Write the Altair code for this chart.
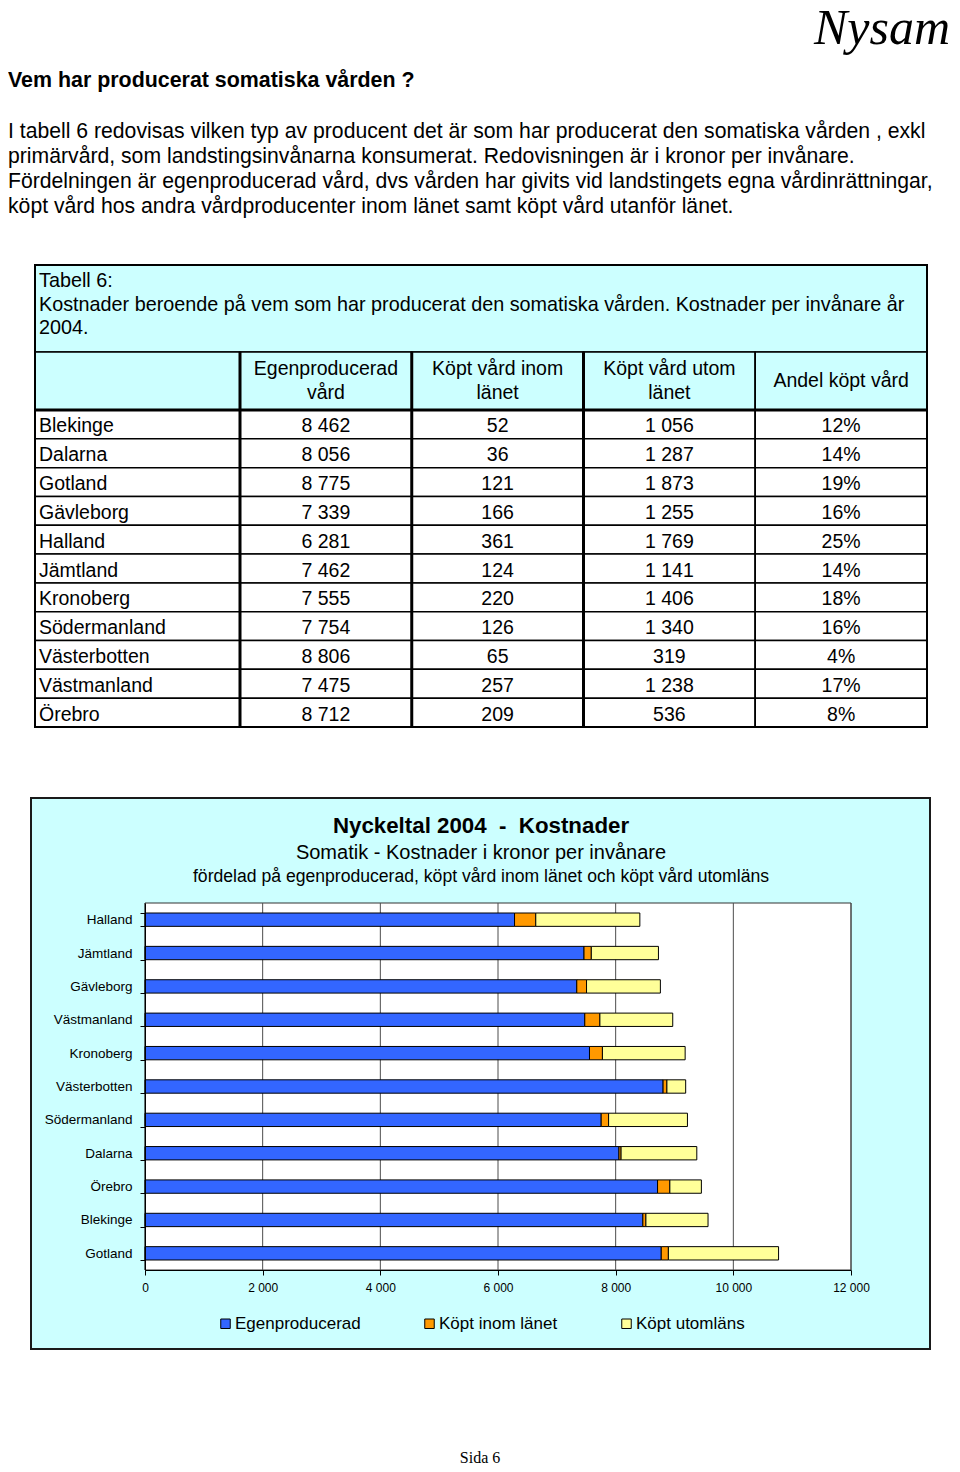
import altair as alt
import pandas as pd

FONT = "Liberation Sans"
SERIF = "Liberation Serif"
CYAN = "#CCFFFF"

# ---------------- data ----------------
regions = ["Blekinge", "Dalarna", "Gotland", "Gävleborg", "Halland", "Jämtland",
           "Kronoberg", "Södermanland", "Västerbotten", "Västmanland", "Örebro"]
egen = [8462, 8056, 8775, 7339, 6281, 7462, 7555, 7754, 8806, 7475, 8712]
inom = [52, 36, 121, 166, 361, 124, 220, 126, 65, 257, 209]
utom = [1056, 1287, 1873, 1255, 1769, 1141, 1406, 1340, 319, 1238, 536]
andel = ["12%", "14%", "19%", "16%", "25%", "14%", "18%", "16%", "4%", "17%", "8%"]
table_headers = ["Egenproducerad\nvård", "Köpt vård inom\nlänet",
                 "Köpt vård utom\nlänet", "Andel köpt vård"]
chart_order = ["Halland", "Jämtland", "Gävleborg", "Västmanland", "Kronoberg",
               "Västerbotten", "Södermanland", "Dalarna", "Örebro", "Blekinge", "Gotland"]
series_names = ["Egenproducerad", "Köpt inom länet", "Köpt utomläns"]
series_colors = ["#3366FF", "#FF9900", "#FFFF99"]
x_ticks = [0, 2000, 4000, 6000, 8000, 10000, 12000]

brand = "Nysam"
heading = "Vem har producerat somatiska vården ?"
paragraph = [
    "I tabell 6 redovisas vilken typ av producent det är som har producerat den somatiska vården , exkl",
    "primärvård, som landstingsinvånarna konsumerat. Redovisningen är i kronor per invånare.",
    "Fördelningen är egenproducerad vård, dvs vården har givits vid landstingets egna vårdinrättningar,",
    "köpt vård hos andra vårdproducenter inom länet samt köpt vård utanför länet.",
]
caption = [
    "Tabell 6:",
    "Kostnader beroende på vem som har producerat den somatiska vården. Kostnader per invånare år",
    "2004.",
]
chart_title = "Nyckeltal 2004\u00a0 -\u00a0 Kostnader"
chart_sub1 = "Somatik - Kostnader i kronor per invånare"
chart_sub2 = "fördelad på egenproducerad, köpt vård inom länet och köpt vård utomläns"
footer = "Sida 6"


def fmt(v):
    return f"{v:,}".replace(",", " ")


W = 944
H1, H2, H3 = 257, 532, 667
one = pd.DataFrame({"k": [0]})

# ---------------- header text ----------------
h_base = alt.Chart(one)
nysam_t = h_base.mark_text(text=brand, font=SERIF, fontStyle="italic", fontSize=50,
                           align="right", baseline="alphabetic", color="black",
                           clip=True).encode(x=alt.value(942), y=alt.value(36))
heading_t = h_base.mark_text(text=heading, font=FONT, fontWeight="bold", fontSize=21.4,
                             align="left", baseline="alphabetic", color="black"
                             ).encode(x=alt.value(0), y=alt.value(79))
para_t = h_base.mark_text(text=paragraph, font=FONT, fontSize=21.2, lineHeight=25,
                          align="left", baseline="alphabetic", color="black"
                          ).encode(x=alt.value(0), y=alt.value(130))
header = alt.layer(nysam_t, heading_t, para_t).properties(width=W, height=H1)

# ---------------- table ----------------
n = len(regions)
tx = alt.Scale(domain=[0, 1, 5], range=[27, 232, 919], zero=False, nice=False)
ty = alt.Scale(domain=[-2, -1, 0, n], range=[0, 87, 145, 462], zero=False, nice=False)

cell_rows = [dict(c0=0, c1=5, r0=-2, r1=-1, fill=CYAN, w=1.5)]
for c in range(5):
    cell_rows.append(dict(c0=c, c1=c + 1, r0=-1, r1=0, fill=CYAN, w=1.5))
    for r in range(n):
        cell_rows.append(dict(c0=c, c1=c + 1, r0=r, r1=r + 1, fill="white", w=1.5))
cells = pd.DataFrame(cell_rows)

cell_layer = alt.Chart(cells).mark_rect(stroke="black").encode(
    x=alt.X("c0:Q", scale=tx, axis=None), x2="c1:Q",
    y=alt.Y("r0:Q", scale=ty, axis=None), y2="r1:Q",
    fill=alt.Fill("fill:N", scale=None),
    strokeWidth=alt.StrokeWidth("w:Q", scale=None),
)

vr = pd.DataFrame(dict(x=[1, 2, 3, 4], y0=[-1] * 4, y1=[n] * 4, w=[3, 3, 3, 1.5]))
vrule = alt.Chart(vr).mark_rule(color="black").encode(
    x=alt.X("x:Q", scale=tx, axis=None),
    y=alt.Y("y0:Q", scale=ty, axis=None), y2="y1:Q",
    strokeWidth=alt.StrokeWidth("w:Q", scale=None),
)
hr = pd.DataFrame(dict(x0=[0], x1=[5], y=[0]))
hrule = alt.Chart(hr).mark_rule(color="black", strokeWidth=3).encode(
    x=alt.X("x0:Q", scale=tx, axis=None), x2="x1:Q",
    y=alt.Y("y:Q", scale=ty, axis=None),
)
border_df = pd.DataFrame(dict(c0=[0], c1=[5], r0=[-2], r1=[n]))
border = alt.Chart(border_df).mark_rect(fill=None, stroke="black", strokeWidth=2).encode(
    x=alt.X("c0:Q", scale=tx, axis=None), x2="c1:Q",
    y=alt.Y("r0:Q", scale=ty, axis=None), y2="r1:Q",
)

name_df = pd.DataFrame(dict(x=[0] * n, y=[r + 0.5 for r in range(n)], t=regions))
name_t = alt.Chart(name_df).mark_text(font=FONT, fontSize=19.5, align="left", dx=4, dy=2,
                                      baseline="middle", color="black").encode(
    x=alt.X("x:Q", scale=tx, axis=None), y=alt.Y("y:Q", scale=ty, axis=None), text="t:N")

num_rows = []
for r in range(n):
    for c, txt in enumerate([fmt(egen[r]), fmt(inom[r]), fmt(utom[r]), andel[r]]):
        num_rows.append(dict(x=c + 1.5, y=r + 0.5, t=txt))
num_df = pd.DataFrame(num_rows)
num_t = alt.Chart(num_df).mark_text(font=FONT, fontSize=19.5, align="center", dy=2,
                                    baseline="middle", color="black").encode(
    x=alt.X("x:Q", scale=tx, axis=None), y=alt.Y("y:Q", scale=ty, axis=None), text="t:N")

hd_df = pd.DataFrame(dict(x=[c + 1.5 for c in range(4)], y=[-0.5] * 4, t=table_headers))
hd_two = hd_df[hd_df["t"].str.contains("\n")]
hd_one = hd_df[~hd_df["t"].str.contains("\n")]
hd_t2 = alt.Chart(hd_two).mark_text(font=FONT, fontSize=19.5, align="center", lineBreak="\n",
                                    lineHeight=24, baseline="middle", dy=-12, color="black").encode(
    x=alt.X("x:Q", scale=tx, axis=None), y=alt.Y("y:Q", scale=ty, axis=None), text="t:N")
hd_t1 = alt.Chart(hd_one).mark_text(font=FONT, fontSize=19.5, align="center",
                                    baseline="middle", color="black").encode(
    x=alt.X("x:Q", scale=tx, axis=None), y=alt.Y("y:Q", scale=ty, axis=None), text="t:N")

cap_t = alt.Chart(one).mark_text(text=caption, font=FONT, fontSize=19.8, lineHeight=23.5,
                                 align="left", baseline="alphabetic", color="black").encode(
    x=alt.value(31), y=alt.value(22))

table = alt.layer(cell_layer, vrule, hrule, border, name_t, num_t, hd_t2, hd_t1, cap_t
                  ).properties(width=W, height=H2)

# ---------------- bar chart ----------------
PX0, PX1 = 137, 843
PY0, PY1 = 106, 473
bx = alt.Scale(domain=[x_ticks[0], x_ticks[-1]], range=[PX0, PX1], nice=False, zero=False)
by = alt.Scale(domain=chart_order, range=[PY0, PY1], paddingInner=0.6, paddingOuter=0.3)

x_axis = alt.Axis(orient="bottom", offset=-(H3 - PY1), values=x_ticks,
                  labelExpr="replace(format(datum.value, ','), ',', ' ')",
                  tickSize=5, labelFontSize=12, labelFont=FONT, labelColor="black",
                  labelPadding=7, domainColor="black", tickColor="black",
                  grid=False, title=None, labelFlush=False, labelOverlap=False, zindex=1)

recs = []
for i, reg in enumerate(regions):
    for k, vals in enumerate([egen, inom, utom]):
        recs.append(dict(region=reg, series=series_names[k], k=k, value=vals[i]))
long = pd.DataFrame(recs)

box = alt.Chart(one).mark_rect(fill=CYAN, stroke="#1a1a1a", strokeWidth=2).encode(
    x=alt.value(23), x2=alt.value(922), y=alt.value(1), y2=alt.value(552))

plot_df = pd.DataFrame(dict(value=[x_ticks[0]], x1=[x_ticks[-1]]))
plot_bg = alt.Chart(plot_df).mark_rect(fill="white", stroke="#333333", strokeWidth=1).encode(
    x=alt.X("value:Q", scale=bx, axis=x_axis), x2="x1:Q",
    y=alt.value(PY0), y2=alt.value(PY1))

grid = alt.Chart(pd.DataFrame({"value": x_ticks})).mark_rule(color="#4d4d4d", strokeWidth=1).encode(
    x=alt.X("value:Q", scale=bx, axis=x_axis), y=alt.value(PY0), y2=alt.value(PY1))

bars = alt.Chart(long).mark_bar(stroke="black", strokeWidth=1).encode(
    x=alt.X("value:Q", stack="zero", scale=bx, axis=x_axis),
    y=alt.Y("region:N", sort=chart_order, scale=by,
            axis=alt.Axis(orient="left", offset=-PX0, tickBand="extent", tickSize=5,
                          labelFontSize=13.5, labelFont=FONT, labelColor="black",
                          labelPadding=8, domainColor="black", tickColor="black",
                          grid=False, title=None, zindex=1)),
    color=alt.Color("series:N", scale=alt.Scale(domain=series_names, range=series_colors),
                    legend=alt.Legend(orient="none", legendX=209, legendY=H1 + H2 + 518,
                                      direction="horizontal", title=None,
                                      symbolType="square", symbolSize=90,
                                      symbolStrokeColor="black", symbolStrokeWidth=1,
                                      labelFontSize=17, labelFont=FONT, labelColor="black",
                                      columnPadding=60, labelOffset=1, padding=0, zindex=2)),
    order=alt.Order("k:Q"),
)

t1 = alt.Chart(one).mark_text(text=chart_title, font=FONT, fontWeight="bold", fontSize=22.3,
                              align="center", baseline="alphabetic", color="black").encode(
    x=alt.value(473), y=alt.value(36))
t2 = alt.Chart(one).mark_text(text=chart_sub1, font=FONT, fontSize=20,
                              align="center", baseline="alphabetic", color="black").encode(
    x=alt.value(473), y=alt.value(62))
t3 = alt.Chart(one).mark_text(text=chart_sub2, font=FONT, fontSize=17.6,
                              align="center", baseline="alphabetic", color="black").encode(
    x=alt.value(473), y=alt.value(85))
foot = alt.Chart(one).mark_text(text=footer, font=SERIF, fontSize=16, clip=True,
                                align="center", baseline="alphabetic", color="black").encode(
    x=alt.value(472), y=alt.value(666))

bar_section = alt.layer(box, plot_bg, grid, bars, t1, t2, t3, foot).properties(width=W, height=H3)

chart = alt.vconcat(header, table, bar_section, spacing=0, bounds="flush").properties(
    padding=0
).configure(font=FONT).configure_view(stroke=None)

chart.save("out.html", embed_options={"renderer": "svg", "actions": False})
